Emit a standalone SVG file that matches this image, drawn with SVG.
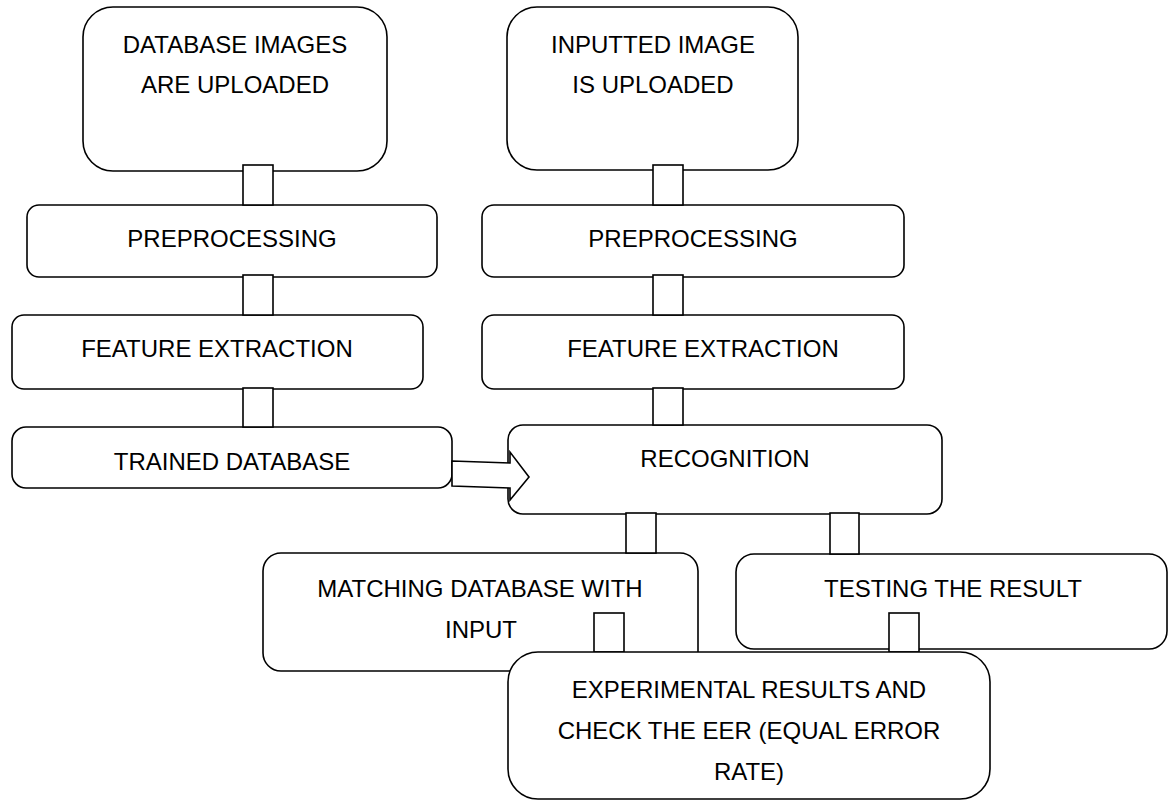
<svg xmlns="http://www.w3.org/2000/svg" width="1168" height="800" viewBox="0 0 1168 800">
<style>
.box{fill:#fff;stroke:#000;stroke-width:1.6}
.con{fill:#fff;stroke:#000;stroke-width:1.6}
text{font-family:"Liberation Sans",Arial,sans-serif;font-size:24px;fill:#000;text-anchor:middle}
</style>
<rect width="1168" height="800" fill="#fff"/>
<g id="n-db-upload"><rect class="box" x="83" y="7" width="304" height="164" rx="30"/><text x="235" y="53">DATABASE IMAGES</text><text x="235" y="93">ARE UPLOADED</text></g>
<g id="n-input-upload"><rect class="box" x="507" y="7" width="291" height="163" rx="30"/><text x="653" y="53">INPUTTED IMAGE</text><text x="653" y="93">IS UPLOADED</text></g>
<g id="n-pre-left"><rect class="box" x="27" y="205" width="410" height="72" rx="12"/><text x="232" y="247">PREPROCESSING</text></g>
<g id="n-pre-right"><rect class="box" x="482" y="205" width="422" height="72" rx="12"/><text x="693" y="247">PREPROCESSING</text></g>
<g id="n-feat-left"><rect class="box" x="12" y="315" width="411" height="74" rx="12"/><text x="217" y="357">FEATURE EXTRACTION</text></g>
<g id="n-feat-right"><rect class="box" x="482" y="315" width="422" height="74" rx="12"/><text x="703" y="357">FEATURE EXTRACTION</text></g>
<g id="n-trained"><rect class="box" x="12" y="427" width="440" height="61" rx="14"/><text x="232" y="470">TRAINED DATABASE</text></g>
<g id="n-recog"><rect class="box" x="508" y="425" width="434" height="89" rx="15"/><text x="725" y="467">RECOGNITION</text></g>
<g id="n-match"><rect class="box" x="263" y="553" width="435" height="118" rx="18"/><text x="480" y="597">MATCHING DATABASE WITH</text><text x="481" y="638">INPUT</text></g>
<g id="n-test"><rect class="box" x="736" y="554" width="431" height="95" rx="18"/><text x="953" y="597">TESTING THE RESULT</text></g>
<g id="connectors">
<rect class="con" x="243" y="165" width="30" height="40"/>
<rect class="con" x="653" y="165" width="30" height="40"/>
<rect class="con" x="243" y="275" width="30" height="40"/>
<rect class="con" x="653" y="275" width="30" height="40"/>
<rect class="con" x="243" y="388" width="30" height="39"/>
<rect class="con" x="653" y="388" width="30" height="37"/>
<rect class="con" x="626" y="513" width="30" height="40"/>
<rect class="con" x="830" y="513" width="29" height="41"/>
<rect class="con" x="594" y="613" width="30" height="39"/>
<rect class="con" x="889" y="613" width="30" height="39"/>
<polygon class="con" points="452,461 510,463 510,452 529,477 510,500 510,488 452,486"/>
</g>
<g id="n-experimental"><rect class="box" x="508" y="652" width="482" height="147" rx="30"/><text x="749" y="698">EXPERIMENTAL RESULTS AND</text><text x="749" y="739">CHECK THE EER (EQUAL ERROR</text><text x="749" y="780">RATE)</text></g>
</svg>
